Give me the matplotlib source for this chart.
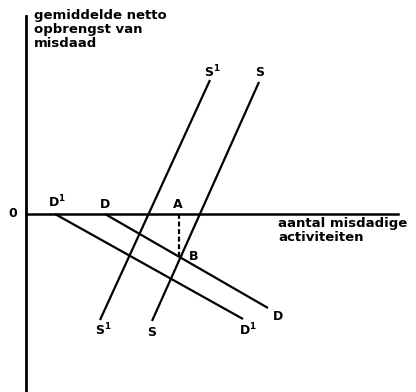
import matplotlib
matplotlib.use('Agg')
import matplotlib.pyplot as plt

# curves (x = aantal misdadige activiteiten, y = gemiddelde netto opbrengst)
s1_x = [74, 184]
s1_y = [-106, 134]
s_x = [126, 233]
s_y = [-107, 132]
d1_x = [29, 217]
d1_y = [0, -105]
d_x = [79, 242]
d_y = [0, -94]
ab_x = [153, 153]
ab_y = [0, -43]

# axes extents
x_axis = [0, 372]
y_axis = [-178, 198]

fig = plt.figure(figsize=(4.16, 3.92), dpi=100)
ax = fig.add_axes([0, 0, 1, 1])
ax.set_xlim(-26, 390)
ax.set_ylim(-178, 214)
ax.axis('off')

ax.plot([0, 0], y_axis, color='black', lw=2.0)
ax.plot(x_axis, [0, 0], color='black', lw=1.8)

for xs, ys in [(s1_x, s1_y), (s_x, s_y), (d1_x, d1_y), (d_x, d_y)]:
    ax.plot(xs, ys, color='black', lw=1.6, solid_capstyle='butt')
ax.plot(ab_x, ab_y, color='black', lw=1.6, ls=(0, (2.2, 1.2)))

fs = 9
def lbl(x, y, s):
    ax.text(x, y, s, fontsize=fs, ha='center', va='center', fontweight='bold')

lbl(186, 142, r'$\mathbf{S^1}$')
lbl(234, 142, 'S')
lbl(31, 12, r'$\mathbf{D^1}$')
lbl(79, 10, 'D')
lbl(152, 10, 'A')
lbl(168, -42, 'B')
lbl(252, -102, 'D')
lbl(222, -116, r'$\mathbf{D^1}$')
lbl(77, -116, r'$\mathbf{S^1}$')
lbl(126, -118, 'S')
lbl(-13, 1, '0')

ax.text(252, -3, 'aantal misdadige\nactiviteiten', fontsize=9.5, ha='left', va='top',
        linespacing=1.08, fontweight='bold')
ax.text(8, 205, 'gemiddelde netto\nopbrengst van\nmisdaad', fontsize=9.5, ha='left', va='top',
        linespacing=1.08, fontweight='bold')

fig.savefig('out.png', dpi=100)
